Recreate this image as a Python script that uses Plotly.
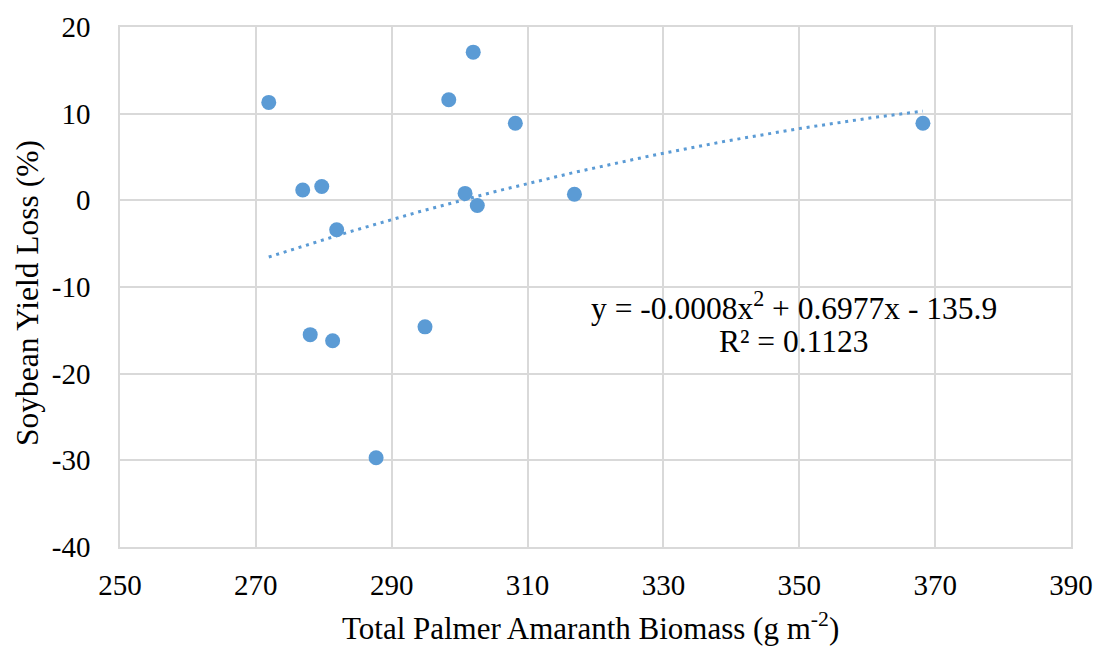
import numpy as np
import plotly.graph_objects as go

# Total Palmer amaranth biomass (g m-2) and soybean yield loss (%)
biomass = [271.9, 276.9, 279.7, 281.9, 278.0, 281.3, 287.7, 294.9,
           298.4, 302.0, 300.8, 302.6, 308.2, 316.9, 368.2]
yield_loss = [11.3, 1.2, 1.6, -3.4, -15.5, -16.2, -29.7, -14.6,
              11.6, 17.1, 0.8, -0.6, 8.9, 0.7, 8.9]

x_ticks = [250, 270, 290, 310, 330, 350, 370, 390]
y_ticks = [-40, -30, -20, -10, 0, 10, 20]

blue = "#5B9BD5"
serif = "Liberation Serif"

# Second-order polynomial trendline fitted to the observations
coef = np.polyfit(biomass, yield_loss, 2)
xs = np.linspace(min(biomass), max(biomass), 200)
ys = np.polyval(coef, xs)

fig = go.Figure()
fig.add_trace(go.Scatter(
    x=xs, y=ys, mode="lines",
    line=dict(color=blue, width=3, dash="3px,4.8px"),
    hoverinfo="skip", showlegend=False,
))
fig.add_trace(go.Scatter(
    x=biomass, y=yield_loss, mode="markers",
    marker=dict(color=blue, size=15, line=dict(width=0)),
    showlegend=False,
))

L, R, T, B = 120, 29, 27, 99
W, H = 1100, 646


def px_x(px):
    """Horizontal pixel position -> paper coordinate."""
    return (px - L) / (W - L - R)


def px_y(py):
    """Vertical pixel position (from top) -> paper coordinate."""
    return (H - B - py) / (H - B - T)


def label(text, x, y, size, angle=0):
    fig.add_annotation(
        x=px_x(x), y=px_y(y), xref="paper", yref="paper",
        xanchor="center", yanchor="middle", textangle=angle,
        text=text, showarrow=False, align="center",
        font=dict(family=serif, size=size, color="#000000"),
    )


# Trendline equation and coefficient of determination
label("y = -0.0008x<sup>2</sup> + 0.6977x - 135.9", 794, 306, 31.5)
label("R² = 0.1123", 793, 341, 31.5)

# Axis titles
label("Total Palmer Amaranth Biomass (g m<sup>-2</sup>)", 590, 626, 31)
label("Soybean Yield Loss (%)", 27, 293, 31.5, angle=-90)

axis_common = dict(
    showgrid=True, gridcolor="#d9d9d9", gridwidth=1.5,
    showline=True, linecolor="#d9d9d9", linewidth=1.5, mirror=True,
    ticks="", tickfont=dict(family=serif, size=29, color="#000000"),
    zeroline=False, automargin=False,
)

fig.update_layout(
    width=W, height=H,
    margin=dict(l=L, r=R, t=T, b=B),
    paper_bgcolor="white", plot_bgcolor="white",
    font=dict(family=serif, color="#000000"),
    xaxis=dict(
        range=[250, 390], tickvals=x_ticks,
        ticktext=[str(v) for v in x_ticks], ticklabelstandoff=11,
        **axis_common,
    ),
    yaxis=dict(
        range=[-40, 20], tickvals=y_ticks,
        ticktext=[str(v) for v in y_ticks], ticklabelstandoff=22,
        **axis_common,
    ),
)
# The zero line of the y axis is drawn a shade darker than the grid
fig.add_hline(y=0, line=dict(color="#bfbfbf", width=1.5), layer="below")

fig.write_html("out.html")
